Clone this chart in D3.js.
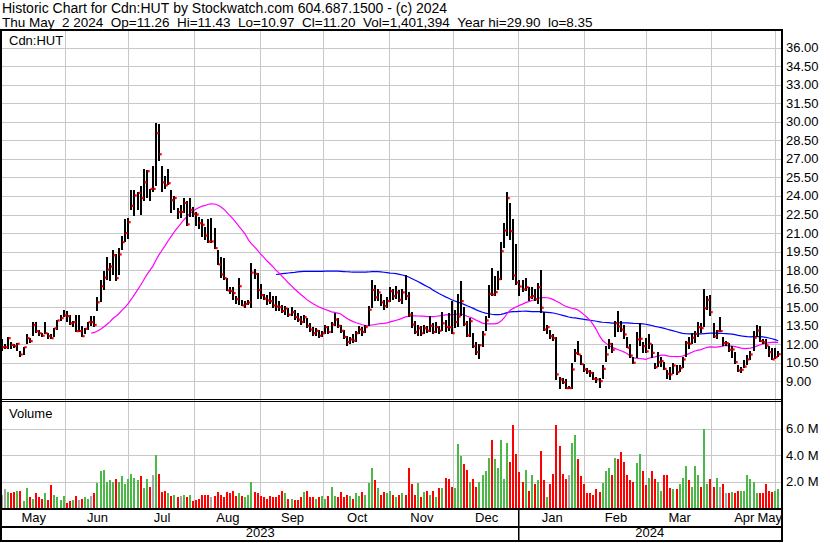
<!DOCTYPE html>
<html>
<head>
<meta charset="utf-8">
<script src="https://cdn.jsdelivr.net/npm/d3@7"></script>
<style>
body { margin: 0; background: #fff; }
text { font-family: "Liberation Sans", Arial, sans-serif; font-size: 13px; fill: #000; }
</style>
</head>
<body>
<div id="chart"></div>
<script>
// ---- data (Cdn:HUT, May 2023 - May 2024) ----
var holidays = ["2023-05-22","2023-07-03","2023-08-07","2023-09-04","2023-10-09",
                "2023-12-25","2023-12-26","2024-01-01","2024-02-19","2024-03-29"];

var closes = [
  11.77,11.77,12.5,11.96,11.85,12.05,11.18,11.77,12.5,12.26,
  13.58,13.07,12.9,12.7,12.9,12.66,12.5,13.3,13.93,14.12,
  14.34,14.28,13.7,13.8,13.07,13.07,12.66,13.26,13.8,13.8,
  13.58,
  15.4,16.7,17.4,18.05,18.3,19.2,17.35,19.27,20.26,21.0,
  21.88,23.2,24.04,24.25,23.83,25.1,26.0,24.57,24.57,29.07,
  27.37,25.1,24.85,25.03,23.66,23.83,22.7,22.7,23.43,21.7,
  22.88,22.55,22.5,21.8,21.67,20.8,20.32,20.32,19.78,18.46,
  17.65,17.35,16.36,16.3,16.14,15.65,16.7,15.14,15.27,15.38,
  17.8,17.7,16.4,15.98,15.7,15.55,15.49,15.14,15.06,
  15.0,14.7,14.9,14.4,14.6,14.2,14.0,13.8,14.2,13.5,
  13.2,12.9,13.1,12.7,12.9,13.4,13.0,13.6,14.0,13.5,
  13.1,12.6,12.2,12.4,12.3,12.9,13.2,13.0,13.4,14.8,
  16.4,15.8,16.2,15.4,15.1,15.5,16.3,15.9,16.2,15.6,
  16.2,15.9,14.4,13.6,13.0,13.3,12.9,13.3,13.1,13.5,
  13.0,13.4,13.1,13.7,13.4,
  13.39,12.9,13.8,14.25,15.49,13.66,12.72,13.87,11.85,11.37,
  11.93,12.8,13.93,16.09,16.03,16.22,17.27,19.53,21.2,23.82,
  21.15,17.57,17.0,16.68,16.44,16.62,15.81,15.9,15.65,16.62,
  14.96,13.2,13.39,12.66,12.5,9.57,9.16,8.94,8.46,8.46,
  9.97,11.29,11.18,10.4,9.97,9.81,9.7,9.21,9.16,9.02,
  10.02,11.18,12.04,11.56,13.71,13.45,13.2,12.8,11.73,11.1,
  10.51,12.4,12.45,11.85,11.43,12.04,11.31,10.15,10.56,10.64,
  10.02,9.62,9.57,10.29,9.75,10.08,10.78,12.12,12.04,12.53,
  12.85,13.39,13.31,14.93,15.6,14.6,12.64,13.07,13.07,12.1,
  12.1,11.56,11.59,10.56,9.89,9.94,10.2,10.78,11.18,12.53,
  13.12,12.26,12.18,11.91,11.37,10.78,10.96,11.2
];

var highs = [
  12.4,12.0,12.6,12.2,12.05,12.1,11.5,11.8,12.85,12.5,
  13.8,13.8,13.2,12.9,13.8,12.9,12.85,13.3,13.95,14.4,
  14.8,14.7,14.4,13.9,14.35,14.35,13.5,13.3,13.8,14.3,
  14.3,
  15.8,17.2,17.9,19.1,18.6,19.6,19.3,19.8,20.8,22.1,
  22.2,24.5,24.5,24.3,24.8,26.2,26.1,24.6,26.4,29.9,
  29.8,26.4,25.6,26.2,24.5,24.0,23.0,23.3,23.8,23.6,
  23.8,23.1,22.7,22.3,22.1,21.5,22.1,22.2,21.4,19.6,
  19.05,19.0,17.4,16.6,16.6,15.9,17.4,15.6,15.5,15.6,
  18.6,18.1,17.8,16.9,16.1,16.0,16.2,15.9,15.9,
  15.5,15.2,15.1,14.9,15.0,14.8,14.5,14.3,14.4,14.1,
  13.7,13.4,13.3,13.2,13.1,13.6,13.5,13.8,14.5,14.1,
  13.6,13.2,12.7,12.6,12.8,13.1,13.5,13.4,13.6,15.1,
  17.2,16.8,16.5,16.1,15.6,15.8,16.6,16.5,16.7,16.4,
  16.5,17.6,16.2,14.6,13.9,13.6,13.5,13.6,13.5,14.3,
  13.7,13.8,13.5,14.6,14.0,
  14.5,15.5,14.8,16.1,17.1,15.0,13.9,14.1,12.9,12.2,
  12.0,13.1,14.3,16.8,18.2,17.5,17.9,20.3,21.8,24.3,
  23.4,22.1,20.1,17.2,17.2,17.4,16.6,16.6,16.5,17.0,
  18.0,14.6,13.6,13.2,12.8,12.6,9.35,9.3,9.2,8.6,
  10.5,11.6,12.3,11.1,10.4,10.1,9.9,9.8,9.4,9.3,
  10.3,11.9,12.4,12.1,13.9,14.7,13.9,13.6,12.6,12.0,
  11.0,13.0,13.7,12.2,12.5,12.8,12.0,10.5,11.4,11.0,
  10.6,9.9,10.2,10.5,10.3,10.3,11.0,12.3,12.6,12.9,
  13.1,13.8,13.7,16.5,15.9,16.0,13.7,13.2,14.2,12.6,
  12.3,12.1,11.9,11.4,10.3,10.2,10.7,11.1,11.5,13.1,
  13.6,13.5,12.4,12.4,11.9,11.7,11.7,11.43
];

var lows = [
  11.5,11.6,11.65,11.65,11.7,11.5,10.97,11.1,12.0,12.1,
  12.7,12.9,12.7,12.6,12.85,12.4,12.4,12.6,13.2,13.9,
  14.2,13.8,13.6,13.4,13.0,13.0,12.6,12.8,13.2,13.5,
  13.4,
  14.7,15.4,16.4,17.2,17.1,17.6,17.1,17.6,19.6,20.3,
  20.5,22.9,22.4,22.9,22.5,23.6,23.8,23.6,24.3,24.8,
  26.8,24.3,24.6,24.9,22.6,22.9,22.1,22.2,22.6,21.6,
  22.3,22.3,21.6,21.3,20.7,20.4,20.2,20.2,19.7,18.4,
  17.4,17.2,16.3,16.1,15.6,15.3,15.2,15.1,14.9,15.2,
  14.9,17.3,15.7,15.7,15.6,15.2,15.3,14.9,14.7,
  14.7,14.5,14.4,14.2,14.3,14.0,13.8,13.6,13.7,13.3,
  13.0,12.7,12.7,12.5,12.6,12.8,12.8,12.9,13.5,13.3,
  12.9,12.4,11.9,12.0,12.1,12.2,12.8,12.7,12.9,13.5,
  14.9,15.5,15.5,15.1,14.8,14.9,15.4,15.6,15.7,15.4,
  15.3,15.6,14.2,13.3,12.8,12.7,12.7,12.8,12.9,13.0,
  12.8,12.9,12.8,13.1,13.0,
  13.1,12.85,13.3,13.4,14.3,13.5,12.6,12.6,11.7,11.1,
  10.8,11.8,13.1,14.1,15.9,15.9,16.4,17.2,19.8,20.8,
  20.4,17.2,16.8,15.9,16.2,16.3,15.5,15.7,15.5,15.3,
  14.5,13.1,12.8,12.4,12.3,9.1,8.35,8.8,8.35,8.35,
  8.35,10.6,11.1,10.3,9.8,9.6,9.4,9.1,8.9,8.5,
  9.2,10.6,11.6,11.3,12.6,13.0,13.0,12.4,11.7,10.9,
  10.4,10.9,11.9,11.3,11.3,11.6,10.9,10.0,10.2,10.2,
  9.9,9.2,9.1,9.6,9.5,9.8,10.1,11.0,11.6,12.0,
  12.1,12.6,12.9,13.4,14.8,14.3,12.5,12.4,13.0,11.9,
  11.9,11.4,10.9,10.4,9.8,9.7,10.1,10.3,10.7,11.5,
  12.6,12.2,12.0,11.6,11.0,10.7,10.8,10.97
];

// volume in millions of shares
var volumes = [
  1.0,1.4,1.2,1.1,1.2,1.3,1.3,0.5,1.5,0.8,
  0.7,1.1,0.8,0.7,1.1,0.6,1.7,1.0,0.8,0.6,
  0.9,0.4,0.5,0.6,0.9,0.6,0.7,0.8,0.7,0.9,
  1.1,
  1.9,2.8,2.9,2.0,2.1,2.0,2.2,2.0,2.4,1.8,
  2.2,2.6,2.3,2.1,2.4,1.5,2.2,1.6,2.5,4.0,
  2.6,1.2,1.3,1.1,0.9,1.0,0.8,0.9,1.0,0.8,
  1.0,0.5,0.6,0.7,1.0,1.0,1.0,0.8,0.9,1.2,
  1.0,0.8,1.2,1.1,1.3,0.9,1.1,0.9,0.8,1.0,
  2.0,1.2,1.1,0.9,0.8,0.7,0.9,0.8,0.8,
  1.0,1.3,1.1,0.7,0.7,0.6,0.6,0.8,1.2,1.3,
  0.8,0.8,0.7,0.8,0.9,0.7,0.9,1.6,0.9,0.8,
  1.2,0.8,1.0,0.9,0.7,1.1,0.9,1.2,1.0,1.9,
  3.0,2.1,1.5,1.0,1.2,1.1,1.3,1.0,0.8,1.0,
  1.1,1.0,3.0,1.8,1.0,1.9,0.8,1.2,1.3,1.0,
  1.3,0.8,1.5,1.5,2.3,
  2.2,1.6,1.5,4.8,3.9,3.3,2.9,2.0,2.2,1.6,
  2.0,2.5,2.8,3.8,5.1,3.7,3.0,5.1,2.2,4.9,
  3.5,6.3,4.1,2.7,2.0,2.9,1.3,2.5,1.8,2.1,
  4.3,2.1,0.8,1.8,2.6,6.3,4.7,2.6,2.2,2.5,
  4.9,5.5,3.7,2.4,1.8,1.1,1.1,1.0,1.4,1.2,
  1.9,2.8,3.0,2.5,3.8,3.7,4.2,3.5,2.5,2.1,
  2.0,3.4,4.1,2.8,1.7,2.3,2.8,2.2,2.0,1.3,
  2.5,2.5,1.5,1.4,1.4,1.8,2.3,3.2,2.1,1.6,
  3.2,2.5,1.6,6.0,1.8,2.2,1.6,2.3,1.6,1.8,
  1.1,1.1,1.2,1.1,1.3,1.3,1.3,2.5,2.2,2.0,
  1.1,1.1,1.1,1.8,1.3,1.2,1.3,1.4
];

var priceTicks = [9,10.5,12,13.5,15,16.5,18,19.5,21,22.5,24,25.5,27,28.5,30,31.5,33,34.5,36];
var volTicks = [2,4,6];
var years = ["2023","2024"];
var maShort = 30, maLong = 90;

var title1 = "Historic Chart for Cdn:HUT by Stockwatch.com 604.687.1500 - (c) 2024";
var title2 = "Thu May  2 2024  Op=11.26  Hi=11.43  Lo=10.97  Cl=11.20  Vol=1,401,394  Year hi=29.90  lo=8.35";

// ---- build ----
var W = 830, H = 543;
var fmt = d3.timeFormat("%Y-%m-%d");
var dates = d3.timeDay.range(new Date(2023, 4, 2), new Date(2024, 4, 3))
  .filter(function(d){ return d.getDay() !== 0 && d.getDay() !== 6 && holidays.indexOf(fmt(d)) < 0; });
var n = Math.min(dates.length, closes.length);
dates = dates.slice(0, n);

var rows = dates.map(function(d, i){
  return {key: fmt(d), date: d, h: highs[i], l: lows[i], c: closes[i], v: volumes[i],
          dir: i === 0 ? 0 : Math.sign(closes[i] - closes[i-1])};
});

function sma(len){
  return rows.map(function(r, i){
    if (i < len - 1) return null;
    return d3.mean(closes.slice(i - len + 1, i + 1));
  });
}
var maS = sma(maShort), maL = sma(maLong);

var plotL = 2, plotR = 781;
var x = d3.scalePoint().domain(rows.map(function(r){ return r.key; })).range([2, 778.2]);
var tx = d3.scaleTime().domain([dates[0], dates[n-1]]).range([2, 778.2]);
var y = d3.scaleLinear().domain([7.5, 37.5]).range([400, 29]);
var yv = d3.scaleLinear().domain([0, 8]).range([508, 402]);

var svg = d3.select("#chart").append("svg")
  .attr("width", W).attr("height", H);

svg.append("rect").attr("width", W).attr("height", H).attr("fill", "#fff");

// header (keep the double spaces)
function keepSpaces(s){ return s.replace(/ /g, "\u00a0"); }
svg.append("text").attr("x", 2).attr("y", 13).style("font-size", "14px").text(keepSpaces(title1));
svg.append("text").attr("x", 2).attr("y", 27).style("font-size", "13.5px").text(keepSpaces(title2));

var grid = "#c8c8c8";
var monthStarts = d3.timeMonth.range(new Date(2023, 5, 1), new Date(2024, 4, 2));
function gx(d){ return Math.round(tx(d)) - 0.5; }

// horizontal grid, price panel
svg.append("g").selectAll("line").data(priceTicks).join("line")
  .attr("x1", plotL).attr("x2", plotR)
  .attr("y1", function(t){ return Math.round(y(t)) + 0.5; })
  .attr("y2", function(t){ return Math.round(y(t)) + 0.5; })
  .attr("stroke", grid);

// horizontal grid, volume panel
svg.append("g").selectAll("line").data(volTicks).join("line")
  .attr("x1", plotL).attr("x2", plotR)
  .attr("y1", function(t){ return Math.round(yv(t)) + 0.5; })
  .attr("y2", function(t){ return Math.round(yv(t)) + 0.5; })
  .attr("stroke", grid);

// vertical month grid (both panels)
svg.append("g").selectAll("line").data(monthStarts).join("line")
  .attr("x1", gx).attr("x2", gx)
  .attr("y1", 31).attr("y2", 508)
  .attr("stroke", grid);

// volume bars
var volColor = function(r){ return r.dir > 0 ? "#4cb848" : (r.dir < 0 ? "#ff0000" : "#a8a8a8"); };
svg.append("g").selectAll("rect").data(rows).join("rect")
  .attr("x", function(r){ return Math.round(x(r.key)) - 1; })
  .attr("width", 2)
  .attr("y", function(r){ return Math.round(yv(r.v)); })
  .attr("height", function(r){ return 508 - Math.round(yv(r.v)); })
  .attr("fill", volColor);

// moving averages
function maLine(vals){
  return d3.line()
    .defined(function(d, i){ return vals[i] != null; })
    .x(function(d){ return x(d.key); })
    .y(function(d, i){ return y(vals[i]); })(rows);
}
svg.append("path").attr("d", maLine(maL)).attr("fill", "none").attr("stroke", "#0000ff").attr("stroke-width", 1.2);
svg.append("path").attr("d", maLine(maS)).attr("fill", "none").attr("stroke", "#ff00ff").attr("stroke-width", 1.2);

// high-low bars
svg.append("g").attr("shape-rendering", "crispEdges").selectAll("rect").data(rows).join("rect")
  .attr("x", function(r){ return Math.round(x(r.key)) - 1; })
  .attr("width", 2)
  .attr("y", function(r){ return y(r.h); })
  .attr("height", function(r){ return Math.max(1, y(r.l) - y(r.h)); })
  .attr("fill", "#000");

// close ticks
svg.append("g").selectAll("rect").data(rows).join("rect")
  .attr("x", function(r){ return Math.round(x(r.key)) + 0.5; })
  .attr("width", 2.2)
  .attr("y", function(r){ return y(r.c) - 1.1; })
  .attr("height", 2.2)
  .attr("fill", "#ff0000");

// frame
var frame = svg.append("g").attr("fill", "#000");
frame.append("rect").attr("x", 0).attr("y", 29).attr("width", 783).attr("height", 2);
frame.append("rect").attr("x", 0).attr("y", 29).attr("width", 2).attr("height", 513);
frame.append("rect").attr("x", 781).attr("y", 29).attr("width", 2).attr("height", 513);
frame.append("rect").attr("x", 0).attr("y", 399).attr("width", 783).attr("height", 1);
frame.append("rect").attr("x", 0).attr("y", 401).attr("width", 783).attr("height", 1);
frame.append("rect").attr("x", 0).attr("y", 508).attr("width", 783).attr("height", 2);
frame.append("rect").attr("x", 0).attr("y", 526).attr("width", 783).attr("height", 2);
frame.append("rect").attr("x", 0).attr("y", 540).attr("width", 783).attr("height", 2);
var janX = gx(new Date(2024, 0, 1));
frame.append("rect").attr("x", janX - 0.5).attr("y", 510).attr("width", 1.5).attr("height", 30);

// panel captions
svg.append("text").attr("x", 9).attr("y", 45).text("Cdn:HUT");
svg.append("text").attr("x", 9).attr("y", 418).text("Volume");

// right axis labels
svg.append("g").selectAll("text").data(priceTicks).join("text")
  .attr("x", 786).attr("y", function(t){ return y(t) + 4.5; })
  .text(d3.format(".2f"));
svg.append("g").selectAll("text").data(volTicks).join("text")
  .attr("x", 786).attr("y", function(t){ return yv(t) + 4.5; })
  .text(function(t){ return d3.format(".1f")(t) + " M"; });

// month labels
var monthLabelDates = d3.timeMonth.range(new Date(2023, 4, 1), new Date(2024, 4, 2));
var mlab = svg.append("g").selectAll("text").data(monthLabelDates).join("text")
  .attr("text-anchor", "middle").attr("y", 522)
  .text(d3.timeFormat("%b"));
mlab.attr("x", function(d){
  var a = Math.max(plotL, tx(d)), b = Math.min(plotR, tx(d3.timeMonth.offset(d, 1)));
  var w = this.getComputedTextLength();
  var c = (a + b) / 2;
  if (c + w / 2 > 782) c = 782 - w / 2;
  return c;
});

// year labels
svg.append("g").selectAll("text").data(years).join("text")
  .attr("text-anchor", "middle").attr("y", 537)
  .attr("x", function(yr, i){ return i === 0 ? (plotL + janX) / 2 : (janX + plotR) / 2; })
  .text(function(yr){ return yr; });
</script>
</body>
</html>
